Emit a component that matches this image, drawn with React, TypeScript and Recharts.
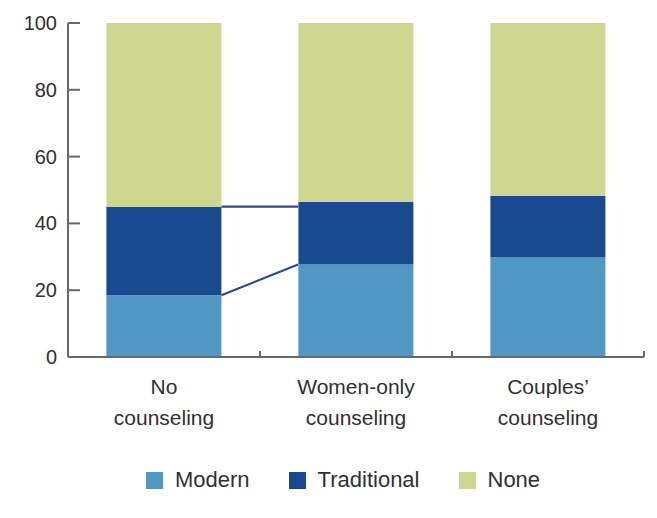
import React from 'react';
import { BarChart, Bar, XAxis, YAxis } from 'recharts';

const categories = ['No counseling', 'Women-only counseling', 'Couples’ counseling'];
const modern = [18.5, 27.7, 29.8];
const traditional = [26.5, 18.7, 18.4];
const none = [55.0, 53.6, 51.8];
const yTicks = [0, 20, 40, 60, 80, 100];

const COLORS = { modern: '#5298c4', traditional: '#174a8f', none: '#cdd78e' };
const AXIS = '#686868';
const TEXT = '#303030';
const FONT = '"Liberation Sans", Arial, sans-serif';
const GAP = 0.2; // barCategoryGap as a fraction of the band

const rows = categories.map((name, i) => ({
  name,
  modern: modern[i],
  traditional: traditional[i],
  none: none[i],
}));

// Traditional segment; the first one also draws the two connectors across
// the gap to the next bar (Modern top and Traditional top).
const TraditionalShape = (props: any) => {
  const { x, y, width, height, index, fill } = props;
  const rect = <rect x={x} y={y} width={width} height={height} fill={fill} />;
  if (index !== 0) return rect;
  const cur = rows[0];
  const next = rows[1];
  const unit = height / cur.traditional;
  const base = y + height;
  const nextModernY = base - (next.modern - cur.modern) * unit;
  const gap = (width * 2 * GAP) / (1 - 2 * GAP);
  const x1 = x + width;
  const x2 = x1 + gap;
  return (
    <g>
      {rect}
      <line x1={x1} y1={base} x2={x2} y2={nextModernY} stroke="#2a4a98" strokeWidth={2.2} />
      <line x1={x1} y1={y} x2={x2} y2={y} stroke="#2a4a98" strokeWidth={2.2} />
    </g>
  );
};

const XTick = (props: any) => {
  const { x, y, payload } = props;
  const half = payload?.offset ?? 0;
  const label: string = payload.value;
  const sp = label.indexOf(' ');
  const lines = sp > 0 ? [label.slice(0, sp), label.slice(sp + 1)] : [label];
  return (
    <g>
      <line x1={x + half} x2={x + half} y1={y} y2={y - 6} stroke={AXIS} strokeWidth={2} />
      <text x={x} y={y} textAnchor="middle" fill={TEXT} fontSize={21} fontFamily={FONT}>
        {lines.map((l, i) => (
          <tspan key={i} x={x} y={y + 37 + i * 31}>{l}</tspan>
        ))}
      </text>
    </g>
  );
};

const YTick = (props: any) => {
  const { x, y, payload } = props;
  return (
    <g>
      <line x1={x} x2={x + 12} y1={y} y2={y} stroke={AXIS} strokeWidth={2} />
      <text x={x - 11} y={y + 7} textAnchor="end" fill={TEXT} fontSize={20} fontFamily={FONT}>
        {payload.value}
      </text>
    </g>
  );
};

const legendItems = [
  { key: 'modern', label: 'Modern' },
  { key: 'traditional', label: 'Traditional' },
  { key: 'none', label: 'None' },
];

export default function App() {
  return (
    <div style={{ position: 'absolute', left: 0, top: 0, width: 657, height: 518, background: '#fff' }}>
      <BarChart
        width={657}
        height={440}
        data={rows}
        margin={{ top: 23, right: 13, left: 0, bottom: 0 }}
        barCategoryGap={`${GAP * 100}%`}
      >
        <YAxis
          type="number"
          domain={[0, 100]}
          ticks={yTicks}
          width={68}
          tickSize={0}
          tickMargin={0}
          tickLine={false}
          axisLine={{ stroke: AXIS, strokeWidth: 2 }}
          tick={<YTick />}
        />
        <XAxis
          dataKey="name"
          height={83}
          tickSize={0}
          tickMargin={0}
          tickLine={false}
          interval={0}
          axisLine={{ stroke: AXIS, strokeWidth: 2 }}
          tick={<XTick />}
        />
        <Bar dataKey="modern" stackId="a" fill={COLORS.modern} isAnimationActive={false} />
        <Bar dataKey="traditional" stackId="a" fill={COLORS.traditional} shape={TraditionalShape} isAnimationActive={false} />
        <Bar dataKey="none" stackId="a" fill={COLORS.none} isAnimationActive={false} />
      </BarChart>
      <div
        style={{
          position: 'absolute', left: 146, top: 470, height: 20,
          display: 'flex', alignItems: 'center', gap: 39,
          fontFamily: FONT, fontSize: 22, color: TEXT, lineHeight: '20px',
        }}
      >
        {legendItems.map(it => (
          <div key={it.key} style={{ display: 'flex', alignItems: 'center', gap: 12 }}>
            <span style={{ width: 17, height: 17, background: (COLORS as any)[it.key], display: 'inline-block' }} />
            <span>{it.label}</span>
          </div>
        ))}
      </div>
    </div>
  );
}
